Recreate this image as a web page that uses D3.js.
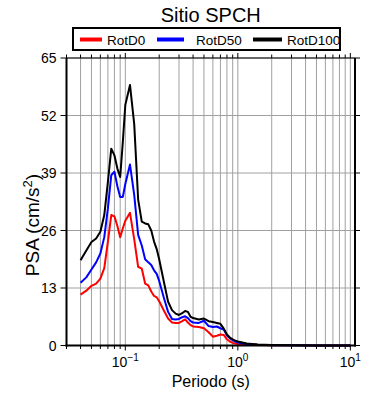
<!DOCTYPE html>
<html><head><meta charset="utf-8">
<script src="https://cdn.jsdelivr.net/npm/d3@7"></script>
<style>body{margin:0;background:#fff}svg{display:block;font-family:"Liberation Sans",Arial,sans-serif}</style>
</head><body><svg id="c" width="390" height="400"></svg>
<script>
const periods=[0.04,0.045,0.05,0.055,0.06,0.065,0.07,0.075,0.08,0.085,0.09,0.095,0.1,0.11,0.12,0.13,0.14,0.15,0.16,0.17,0.18,0.19,0.2,0.22,0.24,0.26,0.28,0.3,0.32,0.34,0.36,0.38,0.4,0.45,0.5,0.55,0.6,0.65,0.7,0.75,0.8,0.85,0.9,0.95,1.0,1.2,1.5,2,3,5,10];
const rotD0=[11.5,12.4,13.5,14.0,15.1,17.5,23.5,29.5,29.2,27.0,24.5,26.5,28.2,30.0,24.0,17.8,17.4,14.0,13.6,12.2,11.2,10.9,10.0,7.9,6.1,5.2,5.1,5.1,5.5,5.9,5.2,4.6,4.3,4.2,3.9,3.0,2.0,2.2,2.5,2.4,1.4,0.9,0.6,0.45,0.35,0.2,0.1,0.05,0.03,0.01,0.005];
const rotD50=[14.2,15.4,17.2,18.8,20.8,24.5,31.0,38.5,39.3,36.0,33.6,33.6,36.5,40.9,34.0,25.0,22.6,19.5,18.8,18.2,17.0,16.2,14.6,10.8,7.6,6.0,5.9,6.0,6.4,6.6,6.2,5.5,5.2,5.1,5.6,4.4,4.2,4.3,3.9,3.6,2.3,1.6,1.2,0.9,0.7,0.35,0.15,0.08,0.04,0.015,0.01];
const rotD100=[19.3,21.5,23.4,24.2,25.7,29.5,37.0,44.5,43.0,40.0,38.1,46.0,54.4,58.9,50.0,33.0,28.0,27.6,27.4,26.0,23.5,21.8,19.5,14.4,9.9,8.0,7.2,6.9,7.3,7.8,7.6,6.5,6.2,5.9,6.1,5.5,5.3,5.1,4.9,3.8,2.5,1.8,1.4,1.1,0.9,0.45,0.2,0.1,0.05,0.02,0.01];
const yTicks=[0,13,26,39,52,65];
const xMajor=[0.1,1,10];
const xMajorExp=["\u22121","0","1"];
const seriesNames=["RotD0","RotD50","RotD100"];
const seriesColors=["#ff0000","#0000ff","#000000"];
const title="Sitio SPCH";
const xTitle="Periodo (s)";

const svg=d3.select("#c");
const L=66.5,R=355,T=58,B=345.5;
const x=d3.scaleLog().domain([0.03,11]).range([L,R]);
const y=d3.scaleLinear().domain([0,65]).range([B,T]);

const minor=[];
for(let e=-2;e<=1;e++)for(let k=1;k<=9;k++){const v=k*Math.pow(10,e);if(v>=0.03&&v<=11)minor.push(v);}

svg.append("g").selectAll("line").data(minor).join("line")
 .attr("x1",d=>x(d)).attr("x2",d=>x(d)).attr("y1",T).attr("y2",B)
 .attr("stroke","#a0a0a0").attr("stroke-width",1);
svg.append("g").selectAll("line").data(yTicks).join("line")
 .attr("x1",L).attr("x2",R).attr("y1",d=>y(d)).attr("y2",d=>y(d))
 .attr("stroke","#a0a0a0").attr("stroke-width",1);

const series=[rotD0,rotD50,rotD100];
const line=d3.line().x((d,i)=>x(periods[i])).y(d=>y(d));
series.forEach((s,i)=>{
 svg.append("path").datum(s).attr("d",line).attr("fill","none")
  .attr("stroke",seriesColors[i]).attr("stroke-width",2).attr("stroke-linejoin","round");
});

svg.append("line").attr("x1",L).attr("x2",R).attr("y1",T).attr("y2",T).attr("stroke","#000").attr("stroke-width",1);
svg.append("line").attr("x1",L).attr("x2",L).attr("y1",T).attr("y2",B+1).attr("stroke","#000").attr("stroke-width",2);
svg.append("line").attr("x1",R).attr("x2",R).attr("y1",T).attr("y2",B+1).attr("stroke","#000").attr("stroke-width",2);
svg.append("line").attr("x1",L-1).attr("x2",R+1).attr("y1",B).attr("y2",B).attr("stroke","#000").attr("stroke-width",2);

const isMajor=d=>xMajor.some(m=>Math.abs(m-d)<1e-9);
svg.append("g").selectAll("line").data(minor).join("line")
 .attr("x1",d=>x(d)).attr("x2",d=>x(d)).attr("y1",B).attr("y2",d=>B+(isMajor(d)?5:3.5))
 .attr("stroke","#000").attr("stroke-width",1);
svg.append("g").selectAll("line").data(minor).join("line")
 .attr("x1",d=>x(d)).attr("x2",d=>x(d)).attr("y1",T).attr("y2",d=>T-(isMajor(d)?5:3.5))
 .attr("stroke","#000").attr("stroke-width",1);
svg.append("g").selectAll("line").data(yTicks).join("line")
 .attr("x1",L-6).attr("x2",L).attr("y1",d=>y(d)).attr("y2",d=>y(d)).attr("stroke","#000").attr("stroke-width",1);
svg.append("g").selectAll("line").data(yTicks).join("line")
 .attr("x1",R).attr("x2",R+5).attr("y1",d=>y(d)).attr("y2",d=>y(d)).attr("stroke","#000").attr("stroke-width",1);

svg.append("g").selectAll("text").data(yTicks).join("text")
 .attr("x",L-10).attr("y",d=>y(d)+5).attr("text-anchor","end").attr("font-size",14).text(d=>d);
xMajor.forEach((m,i)=>{
 const t=svg.append("text").attr("x",x(m)).attr("y",367).attr("text-anchor","middle").attr("font-size",14);
 t.append("tspan").text("10");
 t.append("tspan").attr("dy",-6).attr("font-size",10).text(xMajorExp[i]);
});
svg.append("text").attr("x",(L+R)/2).attr("y",22).attr("text-anchor","middle").attr("font-size",20).text(title);
svg.append("text").attr("x",(L+R)/2).attr("y",387).attr("text-anchor","middle").attr("font-size",16).text(xTitle);
const yl=svg.append("text").attr("transform",`translate(39,225) rotate(-90)`).attr("text-anchor","middle").attr("font-size",19);
yl.append("tspan").text("PSA (cm/s");
yl.append("tspan").attr("dy",-7).attr("font-size",13).text("2");
yl.append("tspan").attr("dy",7).text(")");

svg.append("rect").attr("x",73).attr("y",28).attr("width",267).attr("height",22).attr("fill","#fff").attr("stroke","#000").attr("stroke-width",2);
const legX=[[80,102,107],[157,184,196],[253,282,287]];
seriesNames.forEach((n,i)=>{
 svg.append("line").attr("x1",legX[i][0]).attr("x2",legX[i][1]).attr("y1",39.5).attr("y2",39.5).attr("stroke",seriesColors[i]).attr("stroke-width",4);
 svg.append("text").attr("x",legX[i][2]).attr("y",44.5).attr("font-size",13.5).text(n);
});
</script></body></html>
